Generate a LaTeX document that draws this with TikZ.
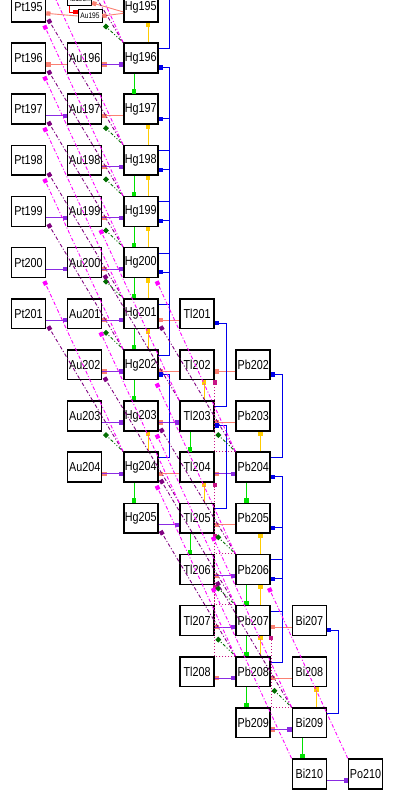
\documentclass[tikz,border=0pt]{standalone}
\usepackage{fontspec}
\setmainfont[FakeStretch=0.83]{Liberation Sans}
\usetikzlibrary{arrows.meta,calc}
\definecolor{cbm}{RGB}{138,43,226}
\definecolor{cec}{RGB}{250,128,114}
\definecolor{cng}{RGB}{0,225,0}
\definecolor{cn2}{RGB}{255,204,0}
\definecolor{cn3}{RGB}{0,0,235}
\definecolor{cnd}{RGB}{0,110,0}
\definecolor{cna}{RGB}{128,0,128}
\definecolor{cnna}{RGB}{255,0,255}
\definecolor{cnt}{RGB}{199,21,133}
\definecolor{cit}{RGB}{255,0,0}
\tikzset{
  nucbox/.style={draw=black,line width=1.5pt,minimum width=34.1pt,minimum height=29.8pt,inner sep=0pt,font=\fontsize{13}{13}\selectfont},
  smallbox/.style={draw=black,line width=0.8pt,minimum width=24pt,minimum height=13.5pt,inner sep=0pt,fill=white,font=\fontsize{8}{8}\selectfont},
  sq/.style={-{Square[length=4.2pt,width=4.2pt]}},
  bm/.style={sq,draw=cbm,line width=0.9pt},
  ec/.style={sq,draw=cec,line width=0.9pt},
  ng/.style={sq,draw=cng,line width=0.9pt},
  ntwo/.style={sq,draw=cn2,line width=0.9pt},
  nthree/.style={sq,draw=cn3,line width=0.9pt},
  nd/.style={sq,draw=cnd,line width=0.9pt,dash pattern=on 1pt off 2pt on 3pt off 2pt on 1pt off 2pt},
  nalpha/.style={sq,draw=cna,line width=0.9pt,dash pattern=on 3.5pt off 2pt on 1pt off 2pt},
  nnalpha/.style={sq,draw=cnna,line width=0.9pt,dash pattern=on 3.5pt off 2pt on 1pt off 2pt},
  ntri/.style={sq,draw=cnt,line width=0.9pt,dash pattern=on 1pt off 2pt},
  itr/.style={sq,draw=cit,line width=0.9pt},
}
\newcommand\nuc[3]{\node[nucbox] (#1#2) at ({28.5+56.17*#3},{58+51.14*(#2-196)}) {#1#2};}
\newcommand\edgeLR[3]{\draw[#1] ([yshift=-6.5pt]#2.east) -- ([yshift=-6.5pt]#3.west);}
\newcommand\edgeRL[3]{\draw[#1] ([yshift=-6.5pt]#2.west) -- ([yshift=-6.5pt]#3.east);}
\newcommand\edgeDown[2]{\draw[ng] ([xshift=11pt]#1.south west) -- ([xshift=11pt]#2.north west);}
\newcommand\edgeUp[2]{\draw[ntwo] ([xshift=25pt]#1.north west) -- ([xshift=25pt]#2.south west);}
\newcommand\edgeThree[2]{\draw[nthree] ([yshift=9.5pt]#1.east) -- ++(11.3,0) |- ([yshift=-9.5pt]#2.east);}
\newcommand\edgeAlpha[2]{\draw[nalpha] (#1.north west) -- ([xshift=2pt,yshift=3pt]#2.south east);}
\newcommand\edgeNA[2]{\draw[nnalpha] (#1.north west) -- ([xshift=-2pt,yshift=-3pt]#2.south east);}
\newcommand\edgeD[2]{\draw[nd] (#1.north west) -- ([xshift=2pt,yshift=-2pt]#2.south east);}
\newcommand\edgeT[2]{\draw[ntri] (#1.north west) -| (#2.south east);}
\begin{document}
\begin{tikzpicture}[x=1pt,y=-1pt]
\useasboundingbox (0,0) rectangle (412,810);
\clip (0,0) rectangle (412,810);
% nuclides
\foreach \a in {195,...,201} {\nuc{Pt}{\a}{0}}
\foreach \a in {196,...,204} {\nuc{Au}{\a}{1}}
\foreach \a in {195,...,205} {\nuc{Hg}{\a}{2}}
\foreach \a in {201,...,208} {\nuc{Tl}{\a}{3}}
\foreach \a in {202,...,209} {\nuc{Pb}{\a}{4}}
\foreach \a in {207,...,210} {\nuc{Bi}{\a}{5}}
\nuc{Po}{210}{6}
% off-picture partners
\coordinate (Pt192) at (44.2,-128);
\coordinate (Pt193) at (48.2,-82.8);
\coordinate (Pt194) at (44.2,-25.7);
\coordinate (Hg194) at (158.6,-34.8);
% small isomer boxes
\node[smallbox] (Au195m) at (79.5,-1) {Au195m};
\node[smallbox] (Au195) at (90,16) {Au195};
% isomeric transition
\draw[itr] ([xshift=-10pt]Au195m.south) |- ([yshift=4pt]Au195.west);
% top row salmon
\draw[ec] ([yshift=-6.5pt]Hg195.west) -- (Au195.east);
\draw[ec] ([yshift=-5pt]Hg195.west) -- ([yshift=-4pt]Au195m.east);
\draw[ec] (Au195.west) -- ([yshift=-6.5pt]Pt195.east);
% horizontal (n,p)/EC salmon
\edgeRL{ec}{Au196}{Pt196}
\edgeRL{ec}{Hg196}{Au196}
\edgeRL{ec}{Hg197}{Au197}
\edgeRL{ec}{Hg198}{Au198}
\edgeRL{ec}{Hg199}{Au199}
\edgeRL{ec}{Hg200}{Au200}
\edgeRL{ec}{Hg201}{Au201}
\edgeRL{ec}{Hg202}{Au202}
\edgeRL{ec}{Hg204}{Au204}
\edgeRL{ec}{Tl201}{Hg201}
\edgeRL{ec}{Tl202}{Hg202}
\edgeRL{ec}{Tl203}{Hg203}
\edgeRL{ec}{Tl204}{Hg204}
\edgeRL{ec}{Pb202}{Tl202}
\edgeRL{ec}{Pb203}{Tl203}
\edgeRL{ec}{Pb204}{Tl204}
\edgeRL{ec}{Pb205}{Tl205}
\edgeRL{ec}{Pb206}{Tl206}
\edgeRL{ec}{Pb207}{Tl207}
\edgeRL{ec}{Pb208}{Tl208}
\edgeRL{ec}{Bi207}{Pb207}
\edgeRL{ec}{Bi208}{Pb208}
\edgeRL{ec}{Bi209}{Pb209}
% beta minus
\edgeLR{bm}{Au196}{Hg196}
\edgeLR{bm}{Pt197}{Au197}
\edgeLR{bm}{Au198}{Hg198}
\edgeLR{bm}{Pt199}{Au199}
\edgeLR{bm}{Au199}{Hg199}
\edgeLR{bm}{Pt200}{Au200}
\edgeLR{bm}{Au200}{Hg200}
\edgeLR{bm}{Pt201}{Au201}
\edgeLR{bm}{Au201}{Hg201}
\edgeLR{bm}{Au202}{Hg202}
\edgeLR{bm}{Au203}{Hg203}
\edgeLR{bm}{Hg203}{Tl203}
\edgeLR{bm}{Au204}{Hg204}
\edgeLR{bm}{Tl204}{Pb204}
\edgeLR{bm}{Hg205}{Tl205}
\edgeLR{bm}{Tl206}{Pb206}
\edgeLR{bm}{Tl207}{Pb207}
\edgeLR{bm}{Tl208}{Pb208}
\edgeLR{bm}{Pb209}{Bi209}
\edgeLR{bm}{Bi210}{Po210}
% (n,gamma)
\edgeDown{Hg196}{Hg197}
\edgeDown{Hg198}{Hg199}
\edgeDown{Hg199}{Hg200}
\edgeDown{Hg200}{Hg201}
\edgeDown{Hg201}{Hg202}
\edgeDown{Hg202}{Hg203}
\edgeDown{Hg204}{Hg205}
\edgeDown{Tl203}{Tl204}
\edgeDown{Tl205}{Tl206}
\edgeDown{Pb204}{Pb205}
\edgeDown{Pb206}{Pb207}
\edgeDown{Pb207}{Pb208}
\edgeDown{Pb208}{Pb209}
\edgeDown{Bi209}{Bi210}
% (n,2n)
\edgeUp{Hg196}{Hg195}
\edgeUp{Hg198}{Hg197}
\edgeUp{Hg199}{Hg198}
\edgeUp{Hg200}{Hg199}
\edgeUp{Hg201}{Hg200}
\edgeUp{Hg202}{Hg201}
\edgeUp{Hg204}{Hg203}
\edgeUp{Tl203}{Tl202}
\edgeUp{Tl205}{Tl204}
\edgeUp{Pb204}{Pb203}
\edgeUp{Pb206}{Pb205}
\edgeUp{Pb207}{Pb206}
\edgeUp{Pb208}{Pb207}
\edgeUp{Bi209}{Bi208}
% (n,3n)
\draw[nthree] ([yshift=9.5pt]Hg196.east) -- ++(11.3,0) |- (Hg194);
\edgeThree{Hg198}{Hg196}
\edgeThree{Hg199}{Hg197}
\edgeThree{Hg200}{Hg198}
\edgeThree{Hg201}{Hg199}
\edgeThree{Hg202}{Hg200}
\edgeThree{Hg204}{Hg202}
\edgeThree{Tl203}{Tl201}
\edgeThree{Tl205}{Tl203}
\edgeThree{Pb204}{Pb202}
\edgeThree{Pb206}{Pb204}
\edgeThree{Pb207}{Pb205}
\edgeThree{Pb208}{Pb206}
\edgeThree{Bi209}{Bi207}
% (n,t)
\edgeT{Pb204}{Tl202}
\edgeT{Pb206}{Tl204}
\edgeT{Pb207}{Tl205}
\edgeT{Pb208}{Tl206}
\edgeT{Bi209}{Pb207}
% (n,d)
\edgeD{Hg196}{Au195}
\edgeD{Hg198}{Au197}
\edgeD{Hg199}{Au198}
\edgeD{Hg200}{Au199}
\edgeD{Hg201}{Au200}
\edgeD{Hg202}{Au201}
\edgeD{Hg204}{Au203}
\edgeD{Pb204}{Tl203}
\edgeD{Pb206}{Tl205}
\edgeD{Pb207}{Tl206}
\edgeD{Pb208}{Tl207}
\edgeD{Bi209}{Pb208}
% (n,alpha)
\draw[nalpha] (Hg196.north west) -- (Pt193);
\edgeAlpha{Hg198}{Pt195}
\edgeAlpha{Hg199}{Pt196}
\edgeAlpha{Hg200}{Pt197}
\edgeAlpha{Hg201}{Pt198}
\edgeAlpha{Hg202}{Pt199}
\edgeAlpha{Hg204}{Pt201}
\edgeAlpha{Tl203}{Au200}
\edgeAlpha{Tl205}{Au202}
\edgeAlpha{Pb204}{Hg201}
\edgeAlpha{Pb206}{Hg203}
\edgeAlpha{Pb207}{Hg204}
\edgeAlpha{Pb208}{Hg205}
\edgeAlpha{Bi209}{Tl206}
% (n,n alpha) and alpha decay
\draw[nnalpha] (Hg196.north west) -- (Pt192);
\draw[nnalpha] (Hg198.north west) -- (Pt194);
\edgeNA{Hg199}{Pt195}
\edgeNA{Hg200}{Pt196}
\edgeNA{Hg201}{Pt197}
\edgeNA{Hg202}{Pt198}
\edgeNA{Hg204}{Pt200}
\edgeNA{Tl203}{Au199}
\edgeNA{Tl205}{Au201}
\edgeNA{Pb204}{Hg200}
\edgeNA{Pb206}{Hg202}
\edgeNA{Pb207}{Hg203}
\edgeNA{Pb208}{Hg204}
\edgeNA{Bi209}{Tl205}
\edgeNA{Bi210}{Tl206}
\edgeNA{Po210}{Pb206}
\end{tikzpicture}
\end{document}
